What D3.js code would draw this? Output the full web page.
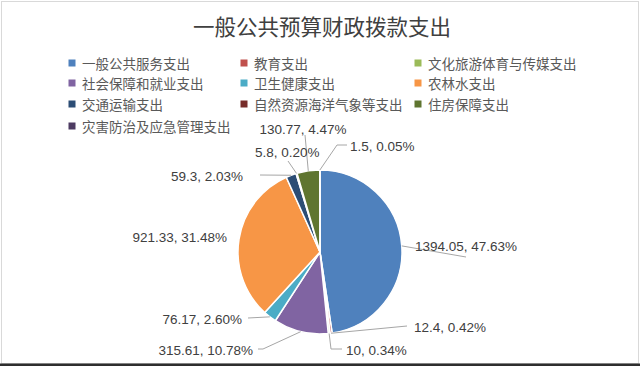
<!DOCTYPE html>
<html><head><meta charset="utf-8">
<script src="https://cdn.jsdelivr.net/npm/d3@7"></script>
<style>body{margin:0;background:#fff;}svg{display:block;}</style>
</head><body>
<svg id="chart" width="640" height="366"></svg>
<script>
const title = "一般公共预算财政拨款支出";
const categories = ["一般公共服务支出","教育支出","文化旅游体育与传媒支出","社会保障和就业支出","卫生健康支出","农林水支出","交通运输支出","自然资源海洋气象等支出","住房保障支出","灾害防治及应急管理支出"];
const values = [1394.05,12.4,10,315.61,76.17,921.33,59.3,5.8,130.77,1.5];
const percents = ["47.63%","0.42%","0.34%","10.78%","2.60%","31.48%","2.03%","0.20%","4.47%","0.05%"];
const colors = ["#4F81BD","#C0504D","#9BBB59","#8064A2","#4BACC6","#F79646","#2C4D75","#772C2A","#5F7530","#4D3B62"];

// layout of data labels (text position, anchor, leader path points after the arc point)
const labelLayout = [
  {x:415,y:246,a:"start",pts:[[466,257]]},
  {x:414,y:327,a:"start",pts:[[407,326]]},
  {x:346,y:350,a:"start",pts:[[331,349],[342,349]]},
  {x:253,y:350,a:"end",pts:[[263,349],[258,349]]},
  {x:242,y:319,a:"end",pts:[[248,318]]},
  {x:227,y:237,a:"end",pts:null},
  {x:243,y:176,a:"end",pts:[[260,175]]},
  {x:255,y:152,a:"start",pts:[[288,161]]},
  {x:303,y:129,a:"middle",pts:[[305,135]]},
  {x:350,y:146,a:"start",pts:[[337,145],[347,145]]}
];

const svg = d3.select("#chart");
const W = 640, H = 366;
svg.append("rect").attr("x",1.5).attr("y",1.5).attr("width",W-3).attr("height",362).attr("fill","#fff").attr("stroke","#d9d9d9");
svg.append("rect").attr("x",0).attr("y",363.5).attr("width",W).attr("height",3).attr("fill","#2e2e2e");

svg.append("text").attr("x",322).attr("y",25).attr("text-anchor","middle").attr("dominant-baseline","central")
  .attr("font-family","'Noto Sans CJK SC'").attr("font-size",21.5).attr("fill","#404040").text(title);

// legend
const colX = [72,244,418], rowY = [63,83,104,126];
const leg = svg.append("g");
categories.forEach((c,i)=>{
  const cx = colX[i%3], cy = rowY[Math.floor(i/3)];
  leg.append("rect").attr("x",cx-3.5).attr("y",cy-3.5).attr("width",7).attr("height",7).attr("fill",colors[i]);
  leg.append("text").attr("x",cx+10).attr("y",cy).attr("dominant-baseline","central")
    .attr("font-family","'Noto Sans CJK SC'").attr("font-size",13.5).attr("fill","#595959").text(c);
});

// pie
const cx = 320, cy = 252, R = 82;
const pie = d3.pie().sort(null).value(d=>d)(values);
const arc = d3.arc().innerRadius(0).outerRadius(R);
const g = svg.append("g").attr("transform",`translate(${cx},${cy})`);
g.selectAll("path").data(pie).join("path").attr("d",arc)
  .attr("fill",(d,i)=>colors[i]).attr("stroke","#fff").attr("stroke-width",1.5).attr("stroke-linejoin","round");

// leaders and labels
const lines = svg.append("g"), labels = svg.append("g");
pie.forEach((d,i)=>{
  const L = labelLayout[i];
  const mid = (d.startAngle+d.endAngle)/2;
  const p0 = [cx + R*Math.sin(mid), cy - R*Math.cos(mid)];
  if (L.pts) {
    lines.append("path").attr("d", d3.line()([p0, ...L.pts]))
      .attr("fill","none").attr("stroke","#a6a6a6").attr("stroke-width",1);
  }
  labels.append("text").attr("x",L.x).attr("y",L.y).attr("text-anchor",L.a).attr("dominant-baseline","central")
    .attr("font-family","'Liberation Sans'").attr("font-size",13.5).attr("fill","#404040")
    .text(`${values[i]}, ${percents[i]}`);
});
</script>
</body></html>
